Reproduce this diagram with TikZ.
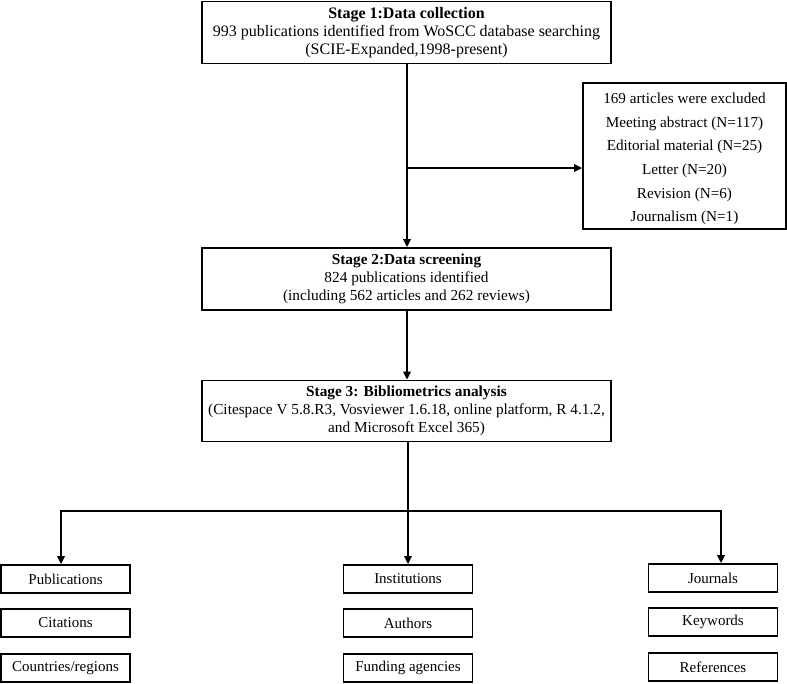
\documentclass[tikz,border=0pt]{standalone}
\usepackage{fontspec}
\setmainfont{Liberation Serif}
\usetikzlibrary{arrows.meta}
\newcommand\stfont{\fontsize{15.3}{18}\selectfont}
\newcommand\smfont{\fontsize{15}{18}\selectfont}
\tikzset{
  stagebox/.style={draw, line width=1.8pt, minimum width=409pt, minimum height=62pt, inner sep=0pt, align=center, font=\stfont},
  exbox/.style={draw, line width=1.8pt, minimum width=203pt, minimum height=146pt, inner sep=0pt},
  extext/.style={inner sep=0pt, align=center, font=\fontsize{15.2}{23.6}\selectfont},
  itembox/.style={draw, line width=1.8pt, minimum width=129pt, minimum height=28pt, inner sep=0pt, align=center, font=\smfont},
  conn/.style={line width=1.7pt},
  arr/.style={line width=1.7pt, -{Triangle[length=8pt,width=7.5pt]}}
}
\begin{document}
\begin{tikzpicture}[x=1pt,y=-1pt]
\useasboundingbox (0,0) rectangle (787,683);
\node[stagebox, font=\fontsize{16}{18.2}\selectfont] (s1) at (406.5,32.5) {\textbf{Stage 1:Data collection}\\993 publications identified from WoSCC database searching\\(SCIE-Expanded,1998-present)};
\node[exbox] (ex) at (684.5,156) {};
\node[extext] (ext) at ([yshift=-3pt]ex.center) {169 articles were excluded\\Meeting abstract (N=117)\\Editorial material (N=25)\\Letter (N=20)\\Revision (N=6)\\Journalism (N=1)};
\node[stagebox] (s2) at (406.5,279) {\textbf{Stage 2:Data screening}\\824 publications identified\\(including 562 articles and 262 reviews)};
\node[stagebox, minimum height=61pt] (s3) at (406.5,411) {\textbf{Stage 3: Bibliometrics analysis}\\(Citespace V 5.8.R3, Vosviewer 1.6.18, online platform, R 4.1.2,\\and Microsoft Excel 365)};

\node[itembox] (pub) at (65.5,579) {Publications};
\node[itembox] (cit) at (65.5,623) {Citations};
\node[itembox] (cou) at (65.5,668) {Countries/regions};
\node[itembox] (ins) at (408,579) {Institutions};
\node[itembox] (aut) at (408,623) {Authors};
\node[itembox] (fun) at (408,668) {Funding agencies};
\node[itembox] (jou) at (713,578) {Journals};
\node[itembox] (key) at (713,622) {Keywords};
\node[itembox] (ref) at (713,667) {References};

\coordinate (br) at (407,168);
\coordinate (hub) at (408,511);
\draw[arr] (s1.south -| br) -- (s2.north -| br);
\draw[arr] (br) -- (ex.west |- br);
\draw[arr] (s2.south -| br) -- (s3.north -| br);
\draw[conn] (hub |- s3.south) -- (hub);
\draw[arr] (hub) -| ([xshift=-4.5pt]pub.north);
\draw[arr] (hub) -- (ins.north);
\draw[arr] (hub) -| ([xshift=8pt]jou.north);
\end{tikzpicture}
\end{document}
